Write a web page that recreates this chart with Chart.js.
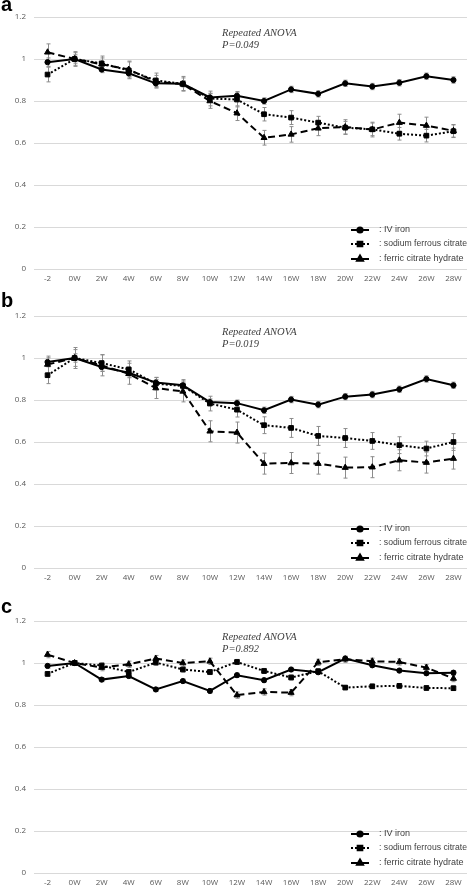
<!DOCTYPE html>
<html>
<head>
<meta charset="utf-8">
<script src="https://cdn.jsdelivr.net/npm/chart.js@4.4.1/dist/chart.umd.min.js"></script>
<style>
    body { margin: 0; background: #fff; width: 472px; height: 891px; overflow: hidden; position: relative; }
    .panel { position: absolute; left: 0; width: 472px; height: 287px; }
    .tag { position: absolute; left: 1px; font: bold 20px "Liberation Sans", Arial, sans-serif; line-height: 20px; color: #000; }
</style>
</head>
<body>
<div class="panel" style="top:0"><canvas id="chart-a" width="472" height="287"></canvas></div>
<div class="panel" style="top:299px"><canvas id="chart-b" width="472" height="287"></canvas></div>
<div class="panel" style="top:604px"><canvas id="chart-c" width="472" height="287"></canvas></div>
<div class="tag" style="top:-6px">a</div>
<div class="tag" style="top:290px">b</div>
<div class="tag" style="top:596px">c</div>

<script>
// ── Data ──────────────────────────────────────────────────────────────
const weeks       = ['-2', '0W', '2W', '4W', '6W', '8W', '10W', '12W', '14W', '16W', '18W', '20W', '22W', '24W', '26W', '28W'];
const seriesNames = ['IV iron', 'sodium ferrous citrate', 'ferric citrate hydrate'];
const testName    = 'Repeated ANOVA';
const pValues     = ['P=0.049', 'P=0.019', 'P=0.892'];

// panel a
const ivA       = [0.985, 1.00, 0.950, 0.932, 0.884, 0.882, 0.817, 0.825, 0.800, 0.855, 0.834, 0.884, 0.869, 0.887, 0.918, 0.900];
const ivErrA    = [0.020, 0.020, 0.015, 0.015, 0.015, 0.015, 0.020, 0.020, 0.015, 0.015, 0.015, 0.015, 0.015, 0.015, 0.015, 0.015];
const sodiumA   = [0.926, 1.00, 0.979, 0.946, 0.898, 0.882, 0.812, 0.807, 0.737, 0.721, 0.697, 0.673, 0.665, 0.644, 0.635, 0.656];
const sodiumErrA= [0.035, 0.035, 0.035, 0.040, 0.035, 0.035, 0.035, 0.035, 0.032, 0.033, 0.030, 0.030, 0.030, 0.030, 0.030, 0.030];
const ferricA   = [1.032, 1.00, 0.975, 0.950, 0.892, 0.880, 0.800, 0.742, 0.625, 0.641, 0.670, 0.676, 0.664, 0.697, 0.683, 0.658];
const ferricErrA= [0.040, 0.030, 0.030, 0.040, 0.030, 0.030, 0.035, 0.035, 0.035, 0.037, 0.035, 0.035, 0.035, 0.040, 0.040, 0.030];

// panel b
const ivB       = [0.981, 1.00, 0.957, 0.930, 0.883, 0.870, 0.790, 0.785, 0.751, 0.802, 0.778, 0.816, 0.826, 0.851, 0.900, 0.870];
const ivErrB    = [0.020, 0.020, 0.020, 0.020, 0.015, 0.015, 0.015, 0.015, 0.015, 0.015, 0.015, 0.015, 0.015, 0.015, 0.015, 0.015];
const sodiumB   = [0.918, 1.00, 0.976, 0.946, 0.878, 0.867, 0.783, 0.754, 0.680, 0.667, 0.629, 0.619, 0.605, 0.585, 0.569, 0.600];
const sodiumErrB= [0.040, 0.040, 0.040, 0.040, 0.030, 0.030, 0.035, 0.035, 0.040, 0.045, 0.045, 0.045, 0.040, 0.040, 0.035, 0.040];
const ferricB   = [0.969, 1.00, 0.965, 0.925, 0.857, 0.841, 0.651, 0.645, 0.497, 0.500, 0.497, 0.478, 0.480, 0.513, 0.502, 0.521];
const ferricErrB= [0.040, 0.050, 0.050, 0.050, 0.050, 0.050, 0.050, 0.050, 0.050, 0.050, 0.050, 0.050, 0.050, 0.050, 0.050, 0.050];

// panel c
const ivC       = [0.986, 1.00, 0.921, 0.938, 0.874, 0.914, 0.867, 0.942, 0.918, 0.969, 0.956, 1.021, 0.989, 0.964, 0.951, 0.954];
const ivErrC    = [0.010, 0.010, 0.010, 0.010, 0.010, 0.010, 0.010, 0.010, 0.010, 0.010, 0.010, 0.010, 0.010, 0.010, 0.010, 0.010];
const sodiumC   = [0.948, 1.00, 0.988, 0.957, 1.002, 0.969, 0.957, 1.005, 0.962, 0.931, 0.961, 0.883, 0.889, 0.891, 0.881, 0.880];
const sodiumErrC= [0.010, 0.010, 0.012, 0.012, 0.012, 0.012, 0.012, 0.012, 0.012, 0.012, 0.012, 0.010, 0.010, 0.010, 0.010, 0.010];
const ferricC   = [1.040, 1.00, 0.978, 0.994, 1.021, 1.000, 1.008, 0.847, 0.862, 0.859, 1.003, 1.018, 1.008, 1.005, 0.978, 0.926];
const ferricErrC= [0.015, 0.010, 0.015, 0.015, 0.015, 0.015, 0.015, 0.015, 0.015, 0.015, 0.015, 0.015, 0.015, 0.015, 0.015, 0.015];

// ── Plugins ───────────────────────────────────────────────────────────
const errorBars = {
    id: 'errorBars',
    beforeDatasetsDraw(chart) {
        const { ctx, scales: { x, y } } = chart;
        ctx.save();
        ctx.strokeStyle = '#8c8c8c';
        ctx.lineWidth   = 1;
        chart.data.datasets.forEach(ds => {
            ds.errors.forEach((e, j) => {
                const px  = Math.round(x.getPixelForValue(j)) + 0.5;
                const top = y.getPixelForValue(ds.data[j] + e);
                const bot = y.getPixelForValue(ds.data[j] - e);
                ctx.beginPath();
                ctx.moveTo(px, top);     ctx.lineTo(px, bot);
                ctx.moveTo(px - 2, top); ctx.lineTo(px + 2, top);
                ctx.moveTo(px - 2, bot); ctx.lineTo(px + 2, bot);
                ctx.stroke();
            });
        });
        ctx.restore();
    }
};

const legendAndNote = {
    id: 'legendAndNote',
    afterDraw(chart) {
        const { ctx, chartArea } = chart;
        const rows = [213, 227, 242];
        ctx.save();
        chart.data.datasets.forEach((ds, i) => {
            const yy = chartArea.top + rows[i];
            ctx.strokeStyle = '#000';
            ctx.lineWidth   = 2;
            ctx.setLineDash(ds.borderDash);
            ctx.beginPath();
            ctx.moveTo(351, yy); ctx.lineTo(369, yy);
            ctx.stroke();
            ctx.setLineDash([]);
            ctx.fillStyle = '#000';
            Chart.helpers.drawPoint(ctx, { pointStyle: ds.pointStyle, radius: ds.pointRadius, rotation: 0, borderWidth: 1 }, 360, yy);
            ctx.fillStyle    = '#404040';
            ctx.font         = '9px "Liberation Sans Narrow", "Liberation Sans", sans-serif';
            ctx.textBaseline = 'middle';
            ctx.fillText(': ' + ds.label, 379, yy, 88);
        });
        ctx.fillStyle    = '#404040';
        ctx.font         = 'italic 10.5px "Liberation Serif", "DejaVu Serif", serif';
        ctx.textBaseline = 'middle';
        ctx.fillText(testName, 222, chartArea.top + 16);
        ctx.fillText(chart.options.plugins.note.text, 222, chartArea.top + 28);
        ctx.restore();
    }
};

// ── Charts ────────────────────────────────────────────────────────────
function series(label, data, errors, dash, style, radius) {
    return {
        label, data, errors,
        borderColor: '#000', backgroundColor: '#000',
        borderWidth: 2, borderDash: dash,
        pointStyle: style, pointRadius: radius, pointBorderWidth: 1,
        tension: 0
    };
}

function makeChart(id, iv, ivErr, sod, sodErr, fer, ferErr, pText) {
    new Chart(document.getElementById(id), {
        type: 'line',
        data: {
            labels: weeks,
            datasets: [
                series(seriesNames[0], iv,  ivErr,  [],     'circle',   2.6),
                series(seriesNames[1], sod, sodErr, [2, 2], 'rect',     3.3),
                series(seriesNames[2], fer, ferErr, [7, 4], 'triangle', 3.5)
            ]
        },
        options: {
            responsive: false,
            animation: false,
            devicePixelRatio: 1,
            layout: { padding: { top: 17, right: 2, bottom: 2, left: 0 } },
            plugins: {
                legend: { display: false },
                tooltip: { enabled: false },
                note: { text: pText }
            },
            scales: {
                x: {
                    offset: true,
                    grid: { display: false, drawTicks: false },
                    border: { display: false },
                    ticks: { color: '#595959', font: { size: 8, family: '"Open Sans", sans-serif' }, padding: 5, maxRotation: 0, autoSkip: false },
                    afterFit: s => { s.height = 16; }
                },
                y: {
                    min: 0, max: 1.2,
                    grid: { color: '#d9d9d9', drawTicks: false },
                    border: { display: false },
                    ticks: {
                        stepSize: 0.2, padding: 8, color: '#595959',
                        font: { size: 8, family: '"Open Sans", sans-serif' },
                        callback: v => String(+v.toFixed(1))
                    },
                    afterFit: s => { s.width = 34; }
                }
            }
        },
        plugins: [errorBars, legendAndNote]
    });
}

makeChart('chart-a', ivA, ivErrA, sodiumA, sodiumErrA, ferricA, ferricErrA, pValues[0]);
makeChart('chart-b', ivB, ivErrB, sodiumB, sodiumErrB, ferricB, ferricErrB, pValues[1]);
makeChart('chart-c', ivC, ivErrC, sodiumC, sodiumErrC, ferricC, ferricErrC, pValues[2]);
</script>
</body>
</html>
